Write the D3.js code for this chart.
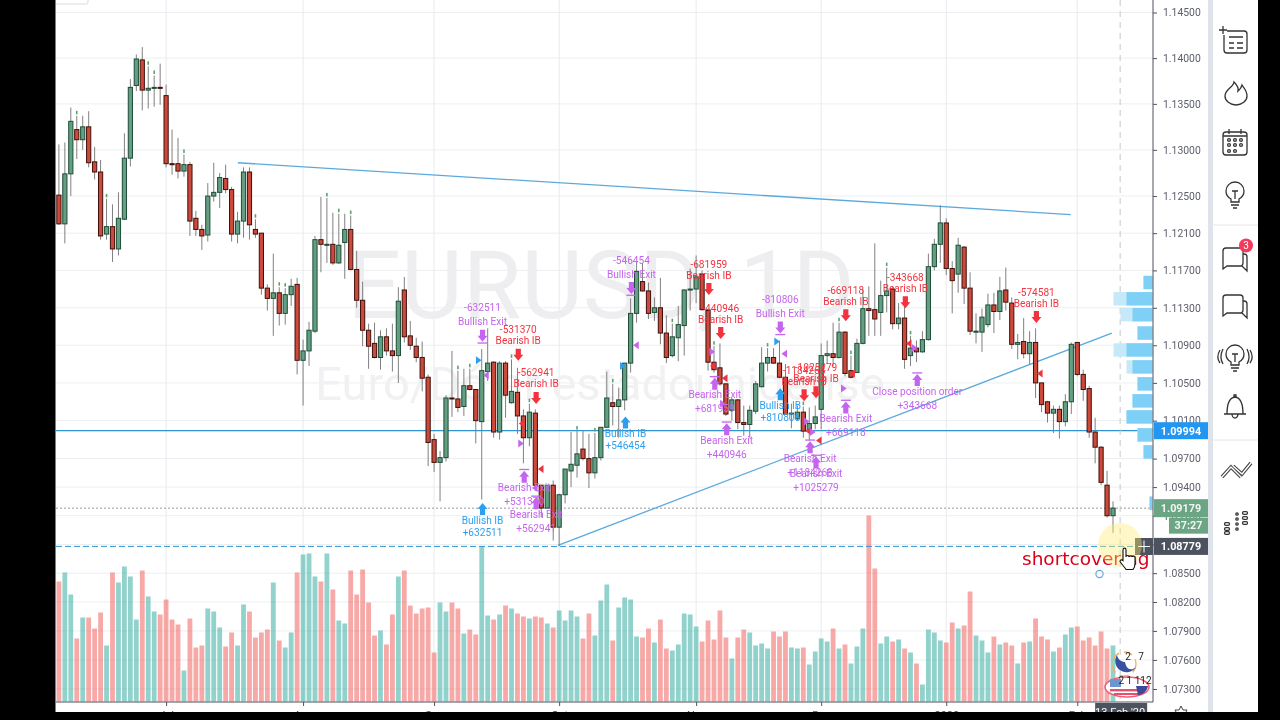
<!DOCTYPE html>
<html><head><meta charset="utf-8">
<script src="https://cdnjs.cloudflare.com/ajax/libs/d3/7.8.5/d3.min.js"></script>
<style>html,body{margin:0;padding:0;background:#000;overflow:hidden}svg{display:block;filter:blur(.4px)}text{font-family:Roboto,"Liberation Sans",sans-serif}</style>
</head><body><svg id="c" width="1280" height="720"></svg>
<script>
// Prices in 1/10000 units (EUR/USD daily)
const openPips=[11251,11220,11274,11322,11311,11325,11287,11276,11209,11217,11193,11225,11291,11370,11398,11365,11367,11368,11359,11285,11285,11277,11284,11226,11214,11208,11250,11254,11269,11257,11209,11223,11276,11214,11210,11151,11140,11146,11124,11144,11155,11074,11084,11105,11203,11197,11198,11178,11200,11214,11171,11138,11106,11092,11077,11099,11084,11079,11149,11100,11089,11077,11056,10990,10966,10971,11034,11033,11025,11047,11043,11009,11062,11072,10998,11071,11029,11040,11015,10992,11018,10942,10918,10942,10898,10932,10957,10963,10980,10970,10955,10971,11003,11029,11025,11032,11071,11124,11158,11148,11125,11130,11103,11079,11098,11111,11149,11150,11166,11127,11072,11066,11049,11021,11032,11008,11006,11020,11046,11071,11077,11071,11056,11017,11012,11019,10999,11007,11022,11079,11081,11077,11104,11063,11061,11092,11129,11128,11125,11143,11150,11113,11119,11079,11087,11083,11096,11174,11198,11221,11172,11166,11195,11151,11104,11104,11112,11133,11126,11149,11135,11091,11094,11081,11093,11050,11030,11018,11022,11009,11030,11093,11059,11044,10998,10982,10942,10910];
const highPips=[11306,11308,11346,11337,11337,11342,11303,11289,11247,11241,11254,11318,11377,11404,11412,11391,11381,11394,11371,11322,11313,11295,11287,11234,11219,11264,11286,11275,11284,11260,11233,11281,11281,11225,11210,11155,11188,11152,11151,11161,11162,11096,11115,11207,11249,11248,11232,11231,11231,11229,11191,11158,11113,11114,11106,11108,11113,11152,11163,11116,11098,11094,11059,10996,10978,11037,11084,11063,11065,11065,11043,11086,11108,11073,11073,11073,11075,11066,11022,11028,11022,10942,10942,10947,10933,10959,10998,10999,10999,10996,10997,11003,11062,11049,11045,11071,11140,11180,11178,11157,11141,11162,11122,11113,11132,11150,11172,11186,11170,11129,11089,11092,11049,11034,11033,11026,11026,11052,11088,11087,11087,11095,11070,11028,11026,11025,11024,11026,11092,11095,11114,11114,11105,11079,11097,11150,11153,11199,11159,11173,11153,11135,11132,11100,11095,11105,11188,11204,11240,11226,11180,11205,11196,11168,11124,11129,11145,11146,11163,11173,11141,11102,11119,11105,11108,11050,11031,11026,11026,11038,11093,11093,11064,11047,11013,10983,10957,10925];
const lowPips=[11219,11199,11250,11290,11300,11281,11268,11203,11203,11179,11186,11224,11282,11364,11343,11345,11347,11349,11281,11273,11269,11271,11207,11207,11192,11201,11244,11237,11253,11201,11199,11205,11203,11205,11144,11127,11100,11111,11112,11132,11059,11026,11068,11103,11168,11178,11176,11177,11161,11170,11130,11089,11065,11076,11064,11079,11062,11050,11093,11085,11072,11041,10962,10956,10925,10967,11014,11019,11015,11042,10986,10927,11052,10992,10990,11013,11028,10996,10965,10983,10939,10908,10917,10884,10878,10923,10940,10950,10968,10939,10949,10968,11003,11005,10992,11021,11061,11114,11147,11118,11116,11091,11071,11077,11073,11079,11127,11135,11127,11063,11061,11047,11015,11010,11001,10994,10992,11017,11045,11062,11070,11055,11017,11002,11010,10992,10989,11001,11001,11070,11068,11076,11057,11055,11061,11091,11100,11100,11100,11125,11107,11107,11065,11068,11072,11082,11095,11170,11178,11165,11124,11146,11134,11101,11092,11083,11109,11103,11117,11127,11086,11075,11076,11070,11034,11019,11008,10997,10991,11004,11017,11057,11031,10992,10965,10942,10908,10892];
const closePips=[11220,11274,11331,11311,11325,11286,11276,11207,11217,11193,11226,11291,11368,11399,11365,11367,11368,11367,11285,11284,11277,11284,11223,11214,11207,11250,11254,11270,11257,11209,11223,11276,11219,11209,11151,11140,11146,11124,11144,11153,11074,11084,11106,11203,11198,11198,11178,11197,11214,11171,11138,11106,11089,11077,11099,11084,11079,11137,11099,11090,11077,11055,10987,10966,10971,11034,11033,11024,11047,11043,11010,11063,11071,10998,11071,11037,11041,11015,10992,11019,10942,10918,10942,10898,10932,10959,10964,10975,10970,10955,10971,11003,11034,11025,11032,11071,11124,11169,11148,11124,11130,11103,11077,11099,11112,11149,11150,11163,11128,11072,11064,11049,11017,11032,11008,11006,11021,11049,11071,11077,11071,11056,11017,11018,11019,10999,11007,11014,11079,11081,11077,11104,11060,11056,11092,11129,11127,11118,11143,11148,11113,11119,11075,11087,11083,11096,11174,11198,11221,11172,11159,11197,11151,11105,11105,11120,11133,11126,11148,11136,11091,11093,11081,11093,11050,11027,11018,11022,11009,11030,11091,11059,11043,10998,10982,10945,10910,10918];
const volumes=[120,129,107,63,84,84,73,89,56,129,119,135,125,82,131,105,90,87,102,82,77,31,83,54,56,93,90,74,55,69,56,97,90,64,69,72,119,61,54,69,129,147,148,125,120,148,112,81,78,131,107,132,99,66,71,57,87,125,131,96,88,93,94,49,99,90,99,93,68,72,67,155,86,82,87,96,93,88,85,83,85,84,78,74,91,81,91,85,63,88,66,101,117,61,94,104,102,65,64,73,59,82,53,51,57,88,87,75,60,81,62,91,64,43,64,72,69,56,58,53,70,65,70,54,53,54,37,50,63,60,73,53,57,38,55,73,186,133,58,65,60,62,53,49,38,17,72,69,61,59,79,73,76,110,66,61,49,65,57,59,56,38,59,60,83,65,62,50,54,67,74,75,61,64,56,70,53,56];
const tealVolumeOnRedCandle=[133];
const priceTicks=[1.145,1.14,1.135,1.13,1.125,1.121,1.117,1.113,1.109,1.105,1.101,1.097,1.094,1.091,1.088,1.085,1.082,1.079,1.076,1.073];
const timeTickIndex=[18,41,63,84,107,128,149,171];
const timeTickLabels=["Jul","Aug","Sep","Oct","Nov","Dec","2020","Feb"];
const lastPrice=1.09179, lineLevel=1.09994, crossPrice=1.08779, crossIndex=178.2;
// Trend lines: [start index, start price, end index, end price]
const trendA=[30.06,1.1286,169.9,1.1230];
const trendB=[83.8,1.0879,176.8,1.1103];
// Volume profile rows
const profilePrice=[1.1157,1.11396,1.11226,1.1103,1.1085,1.1067,1.1049,1.1031,1.1014,1.0995,1.0977,1.0923];
const profileUp=[9,26,20,15,26,20,15,20,26,15,9,3];
const profileDown=[0,13,12,0,13,6,0,0,0,0,0,0];
// Strategy signals
const downIdx=[71,77,80,96,109,111,121,125,127,132,142,164];
const downPip=[11100,11080,11034,11151,11150,11103,11109,11037,11040,11122,11136,11120];
const downNum=["-632511","-531370","-562941","-546454","-681959","-440946","-810806","-1184268","-1025279","-669118","-343668","-574581"];
const downName=["Bullish Exit","Bearish IB","Bearish IB","Bullish Exit","Bearish IB","Bearish IB","Bullish Exit","Bearish IB","Bearish IB","Bearish IB","Bearish IB","Bearish IB"];
const upIdx=[71,78,80,95,110,112,121,126,127,132,144];
const upPip=[10917,10951,10923,11008,11049,11001,11038,10982,10966,11024,11053];
const upName=["Bullish IB","Bearish Exit","Bearish Exit","Bullish IB","Bearish Exit","Bearish Exit","Bullish IB","Bearish Exit","Bearish Exit","Bearish Exit","Close position order"];
const upNum=["+632511","+531370","+562941","+546454","+681959","+440946","+810806","+1184268","+1025279","+669118","+343668"];
const triIdx=[70.5,71.7,77.7,77.6,80.9,79.9,94.7,96.9,109.7,109.8,111.8,111.5,120.6,121.8,125.8,126.6,125.6,127.6,133.2,131.8,142.7,143.7,164.7];
const triPip=[11074,11058,11007,10986,10959,10939,11068,11090,11083,11068,11055,11028,11094,11081,10999,10998,11009,10989,11060,11044,11092,11087,11060];
const triKind=["br","pl","rl","pr","rl","pl","br","pl","pr","rl","rl","pr","br","pl","rl","pr","pr","rl","rl","pr","rl","pr","rl"];
const tinyMarks=[3,8,15,16,21,33,37,38,45,47,49,67,69,76,79,87,90,93,103,110,119,125,131,133,139,143];

const PURPLE="#c564ee",RED="#f2333f",BLUE="#2d9ff0";
const svg=d3.select("#c");
const plotL=56,plotR=1153,plotB=702;
const x=d3.scaleLinear().domain([0,177]).range([58.9,1113]);
const y=d3.scaleLog().domain([1.145,1.073]).range([12.5,689]);
const pip=v=>v/1e4;
const vol=d3.scaleLinear().domain([0,200]).range([701.5,501.5]);
const prof=d3.scaleLinear().domain([0,40]).range([1152.5,1112.5]);
const n=openPips.length;
const idx=d3.range(n);
svg.append("rect").attr("width",1280).attr("height",720).attr("fill","#fff");
const defs=svg.append("defs");
defs.append("clipPath").attr("id","plot").append("rect").attr("x",plotL).attr("y",0).attr("width",plotR-plotL).attr("height",plotB);
const plot=svg.append("g").attr("clip-path","url(#plot)");
plot.append("rect").attr("x",50).attr("y",-5).attr("width",38).attr("height",9).attr("rx",2).attr("fill","#fff").attr("stroke","#dcdcdc");
// grid
plot.append("g").selectAll("line").data(priceTicks).join("line").attr("x1",plotL).attr("x2",plotR).attr("y1",d=>y(d)).attr("y2",d=>y(d)).attr("stroke","#eceef1");
plot.append("g").selectAll("line").data(timeTickIndex).join("line").attr("x1",d=>x(d)).attr("x2",d=>x(d)).attr("y1",0).attr("y2",plotB).attr("stroke","#e8eaee");
// watermark
plot.append("text").attr("x",601).attr("y",318).attr("text-anchor","middle").attr("font-size",95).attr("fill","#eeeef0").text("EURUSD, 1D");
plot.append("text").attr("x",600).attr("y",400).attr("text-anchor","middle").attr("font-size",47).attr("fill","#f1f1f3").text("Euro/Dólar estadounidense");
// volume
plot.append("g").selectAll("rect").data(volumes).join("rect")
 .attr("x",(d,i)=>x(i)-2.4).attr("width",4.8).attr("y",d=>vol(d)).attr("height",d=>vol(0)-vol(d))
 .attr("fill",(d,i)=>(closePips[i]>=openPips[i]||tealVolumeOnRedCandle.includes(i))?"rgba(38,166,154,.5)":"rgba(239,83,80,.5)");
// levels
plot.append("line").attr("x1",plotL).attr("x2",plotR).attr("y1",y(lineLevel)).attr("y2",y(lineLevel)).attr("stroke","#2f94d0").attr("stroke-width",1.2);
plot.append("line").attr("x1",plotL).attr("x2",plotR).attr("y1",y(lastPrice)).attr("y2",y(lastPrice)).attr("stroke","#999").attr("stroke-dasharray","2 2");
plot.append("line").attr("x1",plotL).attr("x2",plotR).attr("y1",y(crossPrice)).attr("y2",y(crossPrice)).attr("stroke","#2f94d0").attr("stroke-dasharray","6 3");
plot.append("line").attr("x1",x(crossIndex)).attr("x2",x(crossIndex)).attr("y1",0).attr("y2",plotB).attr("stroke","#c4c7ce").attr("stroke-dasharray","6 5");
// trend lines
[trendA,trendB].forEach(t=>plot.append("line").attr("x1",x(t[0])).attr("y1",y(t[1])).attr("x2",x(t[2])).attr("y2",y(t[3])).attr("stroke","#5aa9de").attr("stroke-width",1.3));
// volume profile
plot.append("g").selectAll("rect").data(profilePrice).join("rect").attr("x",(d,i)=>prof(profileUp[i]+profileDown[i])).attr("width",(d,i)=>prof(0)-prof(profileUp[i]+profileDown[i])).attr("y",d=>y(d)-6.7).attr("height",13.4).attr("fill","#c6e9f9");
plot.append("g").selectAll("rect").data(profilePrice).join("rect").attr("x",(d,i)=>prof(profileUp[i])).attr("width",(d,i)=>prof(0)-prof(profileUp[i])).attr("y",d=>y(d)-6.7).attr("height",13.4).attr("fill","#7fd0f6");
// candles
const up=i=>closePips[i]>=openPips[i];
plot.append("g").selectAll("line").data(idx).join("line").attr("x1",i=>x(i)).attr("x2",i=>x(i)).attr("y1",i=>y(pip(highPips[i]))).attr("y2",i=>y(pip(lowPips[i]))).attr("stroke","#808080").attr("stroke-width",1);
plot.append("g").selectAll("rect").data(idx).join("rect")
 .attr("x",i=>x(i)-2.1).attr("width",4.2)
 .attr("y",i=>y(pip(Math.max(openPips[i],closePips[i]))))
 .attr("height",i=>Math.max(1,Math.abs(y(pip(openPips[i]))-y(pip(closePips[i])))))
 .attr("fill",i=>up(i)?"#659f83":"#cc4a3b").attr("stroke",i=>up(i)?"#1d4d36":"#3f0f0b").attr("stroke-width",1);
plot.append("g").selectAll("rect").data(tinyMarks).join("rect").attr("x",i=>x(i)-.8).attr("y",i=>y(pip(highPips[i]))-5).attr("width",1.6).attr("height",3.5).attr("fill","#55a56d");
// signals
const arrow=(g,cx,cy,dir,c)=>g.append("path").attr("transform",`translate(${cx},${cy}) scale(1,${dir})`).attr("d","M-2.6,-6H2.6V0H5L0,6L-5,0H-2.6Z").attr("fill",c);
const labelFont=10.1;
const sig=plot.append("g");
const colorOf=name=>name.includes("Exit")||name.includes("Close")?PURPLE:(name.includes("Bearish")?RED:BLUE);
downIdx.forEach((d,k)=>{
 const cx=x(d)+.8,cy=y(pip(downPip[k])),purple=downName[k].includes("Exit"),c=purple?PURPLE:RED;
 arrow(sig,cx,cy,1,c);
 if(purple) sig.append("rect").attr("x",cx-5).attr("y",cy+6.5).attr("width",10).attr("height",1.3).attr("fill",c);
 sig.append("text").attr("x",cx).attr("y",cy-(purple?24.5:21.5)).attr("text-anchor","middle").attr("font-size",labelFont).attr("fill",c).text(downNum[k]);
 sig.append("text").attr("x",cx).attr("y",cy-10.5).attr("text-anchor","middle").attr("font-size",labelFont).attr("fill",c).text(downName[k]);
});
upIdx.forEach((d,k)=>{
 const cx=x(d)+.8,cy=y(pip(upPip[k])),c=colorOf(upName[k]),purple=c===PURPLE;
 arrow(sig,cx,cy,-1,c);
 if(purple) sig.append("rect").attr("x",cx-5).attr("y",cy-7.8).attr("width",10).attr("height",1.3).attr("fill",c);
 sig.append("text").attr("x",cx).attr("y",cy+14.5).attr("text-anchor","middle").attr("font-size",labelFont).attr("fill",c).text(upName[k]);
 sig.append("text").attr("x",cx).attr("y",cy+(purple?28.5:26.5)).attr("text-anchor","middle").attr("font-size",labelFont).attr("fill",c).text(upNum[k]);
});
const triCol={b:BLUE,p:PURPLE,r:RED};
sig.selectAll("path.tri").data(triIdx).join("path").attr("class","tri")
 .attr("transform",(d,k)=>`translate(${x(d)},${y(pip(triPip[k]))}) scale(${triKind[k][1]==="r"?1:-1},1)`)
 .attr("d","M-2.8,-4L2.8,0L-2.8,4Z").attr("fill",(d,k)=>triCol[triKind[k][0]]);
// annotation drawn on the chart
plot.append("text").attr("x",1022).attr("y",565).style("font-family","'DejaVu Sans'").attr("font-size",18.5).attr("fill","#d9001b").text("shortcovering");
plot.append("circle").attr("cx",1099.5).attr("cy",574).attr("r",3.6).attr("fill","none").attr("stroke","#6aa7e2").attr("stroke-width",1.2);
// economic events
const ev=plot.append("g");
ev.append("circle").attr("cx",1124).attr("cy",664).attr("r",12).attr("fill","none").attr("stroke","#f0b35a").attr("stroke-width",1.3).attr("stroke-dasharray","9 5");
ev.append("path").attr("d","M1117,655A11,11 0 1 0 1136,667C1130,672 1126,668 1125,662C1122,662 1118,660 1117,655Z").attr("fill","#38529f");
ev.append("ellipse").attr("cx",1127).attr("cy",687).attr("rx",22).attr("ry",10).attr("fill","#fff").attr("stroke","#ee5f7a").attr("stroke-width",1.6);
ev.append("rect").attr("x",1110).attr("y",679).attr("width",11).attr("height",8).attr("fill","#6f95d0");
ev.append("rect").attr("x",1110).attr("y",689).attr("width",34).attr("height",2.4).attr("fill","#e5506a");
ev.append("rect").attr("x",1114).attr("y",693).attr("width",26).attr("height",2).attr("fill","#e5506a");
ev.append("path").attr("d","M1136,686H1148C1147,692 1142,695 1138,695Z").attr("fill","#3d4a9a");
ev.append("text").attr("x",1128).attr("y",660).attr("font-size",10).attr("fill","#222").attr("text-anchor","middle").text("2");
ev.append("text").attr("x",1141).attr("y",660).attr("font-size",10).attr("fill","#222").attr("text-anchor","middle").text("7");
ev.append("text").attr("x",1135).attr("y",684).attr("font-size",10).attr("fill","#222").attr("text-anchor","middle").text("2 1 112");
// axes
const ay=svg.append("g").attr("transform",`translate(${plotR},0)`).call(d3.axisRight(y).tickValues(priceTicks).tickFormat(d3.format(".5f")).tickSize(4).tickPadding(6));
ay.selectAll("text").attr("font-size",10.4).attr("fill","#5d606b").attr("font-family","Roboto");
ay.selectAll("line").attr("stroke","#50535e");ay.select(".domain").attr("stroke","#50535e").attr("d",`M0,0V${plotB}`);
const ax=svg.append("g").attr("transform",`translate(0,${plotB})`).call(d3.axisBottom(x).tickValues(timeTickIndex).tickFormat((d,i)=>timeTickLabels[i]).tickSize(4).tickPadding(5));
ax.selectAll("text").attr("font-size",11).attr("fill","#50535e");
ax.selectAll("line").attr("stroke","#50535e");ax.select(".domain").attr("stroke","#50535e").attr("d",`M${plotL},0H${plotR}`);
// price tags
const tag=(p,col,txt,xx=1154,w=54,h=17,tc="#fff")=>{svg.append("rect").attr("x",xx).attr("y",p-h/2).attr("width",w).attr("height",h).attr("fill",col);
 svg.append("text").attr("x",xx+w/2).attr("y",p+3.8).attr("text-anchor","middle").attr("font-size",10.8).attr("font-weight",700).attr("fill",tc).text(txt);};
tag(y(lineLevel),"#2196f3",d3.format(".5f")(lineLevel));
tag(y(lastPrice),"#6ca584",d3.format(".5f")(lastPrice),1154,54,18,"#f1f6f2");
tag(y(lastPrice)+17.5,"#6ca584","37:27",1169,39,16,"#f1f6f2");
tag(y(crossPrice),"#4c525e",d3.format(".5f")(crossPrice));
svg.append("rect").attr("x",1135).attr("y",538).attr("width",18).attr("height",17).attr("fill","#4c525e");
svg.append("path").attr("d","M1144,540.5V552.5M1138,546.5H1150").attr("stroke","#fff").attr("stroke-width",1);
svg.append("rect").attr("x",x(crossIndex)-25).attr("y",plotB+1).attr("width",52).attr("height",12).attr("fill","#4c525e");
svg.append("text").attr("x",x(crossIndex)).attr("y",plotB+14).attr("text-anchor","middle").attr("font-size",11).attr("fill","#fff").text("13 Feb '20");
// cursor highlight and hand
svg.append("circle").attr("cx",1120).attr("cy",545).attr("r",22).attr("fill","#ffee70").attr("opacity",.4);
svg.append("path").attr("d","M1123,550c0,-2.5 3,-2.5 3,0v7c0,-2 3,-2 3,0c0,-1.5 3,-1.5 3,0c0,-1 3,-1 3,.5v6c0,3 -1,5 -2,6h-7c-1,-2 -5,-6 -6,-8c0,-2 2,-2 3,-1l0,-10.5z").attr("fill","#fff").attr("stroke","#111").attr("stroke-width",1.1);
// right toolbar
svg.append("rect").attr("x",1208).attr("y",0).attr("width",5).attr("height",720).attr("fill","#dfe3ea");
const tb=svg.append("g").attr("fill","none").attr("stroke","#333").attr("stroke-width",1.3);
const icon=(cx,cy,d)=>tb.append("path").attr("transform",`translate(${cx},${cy})`).attr("d",d);
icon(1235,41,"M-8,-10H9a3,3 0 0 1 3,3V9a3,3 0 0 1 -3,3H-8a3,3 0 0 1 -3,-3V-6M-6,-4H8M-6,2H-1M2,2H8M-6,7H-1M2,7H8M-16,-11H-8M-12,-15V-7");
icon(1236,93,"M-2,-11C-2,-6 -11,-4 -11,3A11,9 0 0 0 11,3C11,-3 7,-6 6,-8C5,-4 3,-3 2,-2C3,-6 0,-9 -2,-11Z");
icon(1235,143,"M-9,-11H9a3,3 0 0 1 3,3V9a3,3 0 0 1 -3,3H-9a3,3 0 0 1 -3,-3V-8a3,3 0 0 1 3,-3M-6,-14V-9M6,-14V-9M-12,-7H12");
const cal=[-6,0,6],calRows=[-3,2,8];
calRows.forEach(r=>cal.forEach(c=>{if(!(r===8&&c===6))tb.append("circle").attr("cx",1235+c).attr("cy",143+r).attr("r",1.4);}));
icon(1235,194,"M-4,8V5C-8,3 -9,0 -9,-3A9,9 0 0 1 9,-3C9,0 8,3 4,5V8ZM-4,11H4M-2,14H2M0,5V-3M-3,-3H3");
svg.append("path").attr("d","M1213,225H1258M1213,440H1258").attr("stroke","#e6e6e6");
const chat="M-12,-8a3,3 0 0 1 3,-3H5a3,3 0 0 1 3,3V4a3,3 0 0 1 -3,3H-8L-12,10ZM8,-5H9a3,3 0 0 1 3,3V12L7,7";
icon(1235,259,chat);
svg.append("circle").attr("cx",1246).attr("cy",245.5).attr("r",7).attr("fill","#f23b5c");
svg.append("text").attr("x",1246).attr("y",249).attr("text-anchor","middle").attr("font-size",10).attr("fill","#fff").text("3");
icon(1235,306,chat);
icon(1235,358,"M-4,7V4C-8,2 -9,-1 -9,-4A9,9 0 0 1 9,-4C9,-1 8,2 4,4V7ZM-4,10H4M-2,13H2M0,4V-4M-3,-4H3M-12,-9C-15,-3 -15,1 -12,6M12,-9C15,-3 15,1 12,6M-15,-8C-18,-3 -18,1 -15,5M15,-8C18,-3 18,1 15,5");
icon(1235,407,"M-8,7C-8,3 -8,-9 0,-10C8,-9 8,3 8,7ZM-11,7H11M-3,7A3,4 0 0 0 3,7M-1,-10V-12H1V-10");
// chevrons: double outline
[["#444",3.6],["#fff",1.4]].forEach(s=>svg.append("path").attr("d","M1222,477L1231,467L1241,477M1233,466L1242,474L1251,463").attr("fill","none").attr("stroke",s[0]).attr("stroke-width",s[1]));
[[1245,513],[1245,518],[1245,523],[1227,524],[1227,529],[1227,533]].forEach(p=>tb.append("rect").attr("x",p[0]-2.5).attr("y",p[1]-1.4).attr("width",5).attr("height",2.8).attr("rx",1.3));
[514,519,524,529].forEach(v=>tb.append("circle").attr("cx",1237).attr("cy",v).attr("r",1.2));
// settings gear at the axis corner
svg.append("path").attr("d","M1181,706L1183,710H1187L1185,714H1177L1175,710H1179Z").attr("fill","none").attr("stroke","#444");
// frame of the video
svg.append("rect").attr("x",0).attr("y",0).attr("width",55.5).attr("height",720).attr("fill","#000");
svg.append("rect").attr("x",1258).attr("y",0).attr("width",22).attr("height",720).attr("fill","#000");
svg.append("rect").attr("x",0).attr("y",712).attr("width",1280).attr("height",8).attr("fill","#000");
</script></body></html>
